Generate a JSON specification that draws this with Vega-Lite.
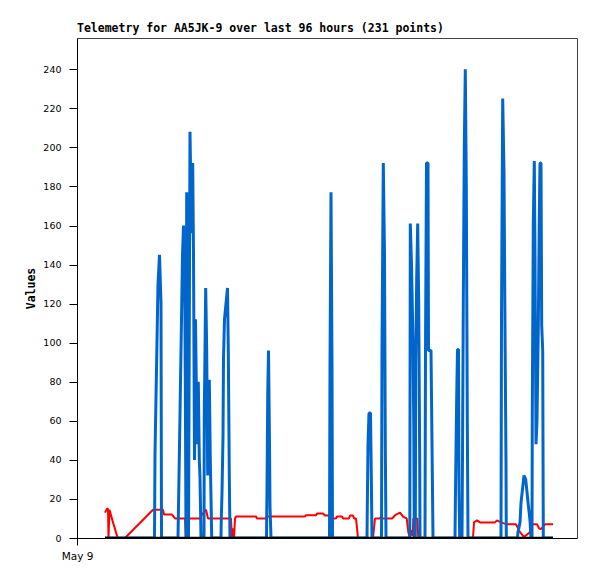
{
  "$schema": "https://vega.github.io/schema/vega-lite/v6.json",
  "width": 500,
  "height": 500,
  "autosize": {"type": "none"},
  "padding": {"left": 77, "top": 38, "right": 20, "bottom": 41},
  "background": "white",
  "title": {
    "text": "Telemetry for AA5JK-9 over last 96 hours (231 points)",
    "anchor": "start",
    "frame": "group",
    "font": "DejaVu Sans Mono",
    "fontWeight": "bold",
    "fontSize": 11.5,
    "color": "black",
    "offset": 4
  },
  "config": {
    "view": {"stroke": "#444444", "strokeWidth": 1},
    "axis": {
      "domainColor": "black",
      "tickColor": "black",
      "labelColor": "black",
      "labelFont": "DejaVu Sans",
      "labelFontSize": 9.5,
      "grid": false,
      "titleFont": "DejaVu Sans Mono",
      "titleFontWeight": "bold",
      "titleFontSize": 11.5,
      "titleColor": "black"
    }
  },
  "datasets": {
    "telemetry": [
      {"t": 5.6, "v": 0, "ch": "Ch1"},
      {"t": 15.5, "v": 0, "ch": "Ch1"},
      {"t": 15.6, "v": 43, "ch": "Ch1"},
      {"t": 15.8, "v": 72, "ch": "Ch1"},
      {"t": 16.0, "v": 101, "ch": "Ch1"},
      {"t": 16.2, "v": 130, "ch": "Ch1"},
      {"t": 16.5, "v": 145, "ch": "Ch1"},
      {"t": 16.8, "v": 120, "ch": "Ch1"},
      {"t": 16.9, "v": 0, "ch": "Ch1"},
      {"t": 20.2, "v": 0, "ch": "Ch1"},
      {"t": 20.3, "v": 16, "ch": "Ch1"},
      {"t": 20.5, "v": 47, "ch": "Ch1"},
      {"t": 20.7, "v": 80, "ch": "Ch1"},
      {"t": 20.9, "v": 112, "ch": "Ch1"},
      {"t": 21.1, "v": 145, "ch": "Ch1"},
      {"t": 21.3, "v": 160, "ch": "Ch1"},
      {"t": 21.5, "v": 147, "ch": "Ch1"},
      {"t": 21.66, "v": 81, "ch": "Ch1"},
      {"t": 21.8, "v": 0, "ch": "Ch1"},
      {"t": 21.94, "v": 177, "ch": "Ch1"},
      {"t": 22.14, "v": 87, "ch": "Ch1"},
      {"t": 22.3, "v": 0, "ch": "Ch1"},
      {"t": 22.6, "v": 208, "ch": "Ch1"},
      {"t": 22.9, "v": 156, "ch": "Ch1"},
      {"t": 23.14, "v": 192, "ch": "Ch1"},
      {"t": 23.3, "v": 145, "ch": "Ch1"},
      {"t": 23.5, "v": 40, "ch": "Ch1"},
      {"t": 23.7, "v": 112, "ch": "Ch1"},
      {"t": 24.0, "v": 48, "ch": "Ch1"},
      {"t": 24.26, "v": 80, "ch": "Ch1"},
      {"t": 24.46, "v": 40, "ch": "Ch1"},
      {"t": 24.6, "v": 31, "ch": "Ch1"},
      {"t": 24.8, "v": 0, "ch": "Ch1"},
      {"t": 25.4, "v": 0, "ch": "Ch1"},
      {"t": 25.46, "v": 64, "ch": "Ch1"},
      {"t": 25.74, "v": 128, "ch": "Ch1"},
      {"t": 25.94, "v": 96, "ch": "Ch1"},
      {"t": 26.14, "v": 32, "ch": "Ch1"},
      {"t": 26.46, "v": 81, "ch": "Ch1"},
      {"t": 26.66, "v": 40, "ch": "Ch1"},
      {"t": 26.8, "v": 21, "ch": "Ch1"},
      {"t": 26.94, "v": 0, "ch": "Ch1"},
      {"t": 28.8, "v": 0, "ch": "Ch1"},
      {"t": 28.84, "v": 8, "ch": "Ch1"},
      {"t": 29.0, "v": 23, "ch": "Ch1"},
      {"t": 29.2, "v": 52, "ch": "Ch1"},
      {"t": 29.3, "v": 92, "ch": "Ch1"},
      {"t": 29.5, "v": 112, "ch": "Ch1"},
      {"t": 29.8, "v": 120, "ch": "Ch1"},
      {"t": 30.1, "v": 128, "ch": "Ch1"},
      {"t": 30.26, "v": 96, "ch": "Ch1"},
      {"t": 30.46, "v": 32, "ch": "Ch1"},
      {"t": 30.6, "v": 0, "ch": "Ch1"},
      {"t": 37.9, "v": 0, "ch": "Ch1"},
      {"t": 38.0, "v": 24.5, "ch": "Ch1"},
      {"t": 38.14, "v": 72, "ch": "Ch1"},
      {"t": 38.3, "v": 96, "ch": "Ch1"},
      {"t": 38.5, "v": 48, "ch": "Ch1"},
      {"t": 38.6, "v": 16, "ch": "Ch1"},
      {"t": 38.8, "v": 0, "ch": "Ch1"},
      {"t": 50.5, "v": 0, "ch": "Ch1"},
      {"t": 50.6, "v": 88, "ch": "Ch1"},
      {"t": 50.8, "v": 177, "ch": "Ch1"},
      {"t": 51.0, "v": 88, "ch": "Ch1"},
      {"t": 51.1, "v": 0, "ch": "Ch1"},
      {"t": 58.0, "v": 0, "ch": "Ch1"},
      {"t": 58.06, "v": 16, "ch": "Ch1"},
      {"t": 58.2, "v": 48, "ch": "Ch1"},
      {"t": 58.4, "v": 64, "ch": "Ch1"},
      {"t": 58.7, "v": 64, "ch": "Ch1"},
      {"t": 58.86, "v": 32, "ch": "Ch1"},
      {"t": 59.0, "v": 0, "ch": "Ch1"},
      {"t": 60.9, "v": 0, "ch": "Ch1"},
      {"t": 61.0, "v": 97, "ch": "Ch1"},
      {"t": 61.26, "v": 192, "ch": "Ch1"},
      {"t": 61.5, "v": 145, "ch": "Ch1"},
      {"t": 61.66, "v": 48, "ch": "Ch1"},
      {"t": 61.8, "v": 0, "ch": "Ch1"},
      {"t": 66.56, "v": 0, "ch": "Ch1"},
      {"t": 66.66, "v": 161, "ch": "Ch1"},
      {"t": 66.9, "v": 140, "ch": "Ch1"},
      {"t": 67.2, "v": 100, "ch": "Ch1"},
      {"t": 67.36, "v": 55, "ch": "Ch1"},
      {"t": 67.46, "v": 0, "ch": "Ch1"},
      {"t": 67.66, "v": 0, "ch": "Ch1"},
      {"t": 67.74, "v": 89, "ch": "Ch1"},
      {"t": 67.94, "v": 133, "ch": "Ch1"},
      {"t": 68.14, "v": 161, "ch": "Ch1"},
      {"t": 68.34, "v": 120, "ch": "Ch1"},
      {"t": 68.54, "v": 40, "ch": "Ch1"},
      {"t": 68.6, "v": 0, "ch": "Ch1"},
      {"t": 69.6, "v": 0, "ch": "Ch1"},
      {"t": 69.7, "v": 96, "ch": "Ch1"},
      {"t": 69.9, "v": 192, "ch": "Ch1"},
      {"t": 70.2, "v": 192, "ch": "Ch1"},
      {"t": 70.3, "v": 96, "ch": "Ch1"},
      {"t": 70.8, "v": 96, "ch": "Ch1"},
      {"t": 71.0, "v": 48, "ch": "Ch1"},
      {"t": 71.2, "v": 0, "ch": "Ch1"},
      {"t": 75.6, "v": 0, "ch": "Ch1"},
      {"t": 75.7, "v": 24.5, "ch": "Ch1"},
      {"t": 75.94, "v": 72, "ch": "Ch1"},
      {"t": 76.1, "v": 96.5, "ch": "Ch1"},
      {"t": 76.3, "v": 96.5, "ch": "Ch1"},
      {"t": 76.4, "v": 24.5, "ch": "Ch1"},
      {"t": 76.54, "v": 0, "ch": "Ch1"},
      {"t": 77.0, "v": 0, "ch": "Ch1"},
      {"t": 77.1, "v": 41, "ch": "Ch1"},
      {"t": 77.26, "v": 120, "ch": "Ch1"},
      {"t": 77.46, "v": 200, "ch": "Ch1"},
      {"t": 77.66, "v": 240, "ch": "Ch1"},
      {"t": 77.86, "v": 180, "ch": "Ch1"},
      {"t": 78.06, "v": 60, "ch": "Ch1"},
      {"t": 78.2, "v": 0, "ch": "Ch1"},
      {"t": 84.8, "v": 0, "ch": "Ch1"},
      {"t": 84.9, "v": 112, "ch": "Ch1"},
      {"t": 85.14, "v": 225, "ch": "Ch1"},
      {"t": 85.4, "v": 187, "ch": "Ch1"},
      {"t": 85.6, "v": 107, "ch": "Ch1"},
      {"t": 85.8, "v": 37, "ch": "Ch1"},
      {"t": 85.86, "v": 0, "ch": "Ch1"},
      {"t": 88.1, "v": 0, "ch": "Ch1"},
      {"t": 88.2, "v": 3, "ch": "Ch1"},
      {"t": 88.6, "v": 8, "ch": "Ch1"},
      {"t": 88.8, "v": 18, "ch": "Ch1"},
      {"t": 89.06, "v": 24, "ch": "Ch1"},
      {"t": 89.4, "v": 32, "ch": "Ch1"},
      {"t": 89.74, "v": 30, "ch": "Ch1"},
      {"t": 89.94, "v": 25, "ch": "Ch1"},
      {"t": 90.26, "v": 17, "ch": "Ch1"},
      {"t": 90.6, "v": 9, "ch": "Ch1"},
      {"t": 90.8, "v": 0, "ch": "Ch1"},
      {"t": 91.0, "v": 0, "ch": "Ch1"},
      {"t": 91.06, "v": 64, "ch": "Ch1"},
      {"t": 91.26, "v": 161, "ch": "Ch1"},
      {"t": 91.46, "v": 193, "ch": "Ch1"},
      {"t": 91.6, "v": 145, "ch": "Ch1"},
      {"t": 91.8, "v": 48, "ch": "Ch1"},
      {"t": 92.0, "v": 60, "ch": "Ch1"},
      {"t": 92.26, "v": 108, "ch": "Ch1"},
      {"t": 92.46, "v": 164, "ch": "Ch1"},
      {"t": 92.6, "v": 192, "ch": "Ch1"},
      {"t": 92.8, "v": 192, "ch": "Ch1"},
      {"t": 92.94, "v": 109, "ch": "Ch1"},
      {"t": 93.14, "v": 96, "ch": "Ch1"},
      {"t": 93.26, "v": 0, "ch": "Ch1"},
      {"t": 95.2, "v": 0, "ch": "Ch1"},

      {"t": 5.6, "v": 13, "ch": "Ch2"},
      {"t": 5.8, "v": 14, "ch": "Ch2"},
      {"t": 6.0, "v": 15, "ch": "Ch2"},
      {"t": 6.2, "v": 15, "ch": "Ch2"},
      {"t": 6.3, "v": 0, "ch": "Ch2"},
      {"t": 6.5, "v": 14.5, "ch": "Ch2"},
      {"t": 7.2, "v": 8, "ch": "Ch2"},
      {"t": 8.14, "v": 0, "ch": "Ch2"},
      {"t": 9.6, "v": 0, "ch": "Ch2"},
      {"t": 15.2, "v": 14.5, "ch": "Ch2"},
      {"t": 17.2, "v": 14.5, "ch": "Ch2"},
      {"t": 17.4, "v": 12, "ch": "Ch2"},
      {"t": 19.0, "v": 12, "ch": "Ch2"},
      {"t": 19.6, "v": 10, "ch": "Ch2"},
      {"t": 21.6, "v": 10, "ch": "Ch2"},
      {"t": 21.8, "v": 0, "ch": "Ch2"},
      {"t": 22.0, "v": 10, "ch": "Ch2"},
      {"t": 24.6, "v": 10, "ch": "Ch2"},
      {"t": 25.0, "v": 12, "ch": "Ch2"},
      {"t": 25.8, "v": 14.5, "ch": "Ch2"},
      {"t": 26.2, "v": 10, "ch": "Ch2"},
      {"t": 30.8, "v": 10, "ch": "Ch2"},
      {"t": 31.0, "v": 0, "ch": "Ch2"},
      {"t": 31.2, "v": 5, "ch": "Ch2"},
      {"t": 31.4, "v": 0, "ch": "Ch2"},
      {"t": 31.6, "v": 10, "ch": "Ch2"},
      {"t": 31.8, "v": 11, "ch": "Ch2"},
      {"t": 35.8, "v": 11, "ch": "Ch2"},
      {"t": 36.0, "v": 10, "ch": "Ch2"},
      {"t": 37.8, "v": 10, "ch": "Ch2"},
      {"t": 38.0, "v": 11, "ch": "Ch2"},
      {"t": 45.6, "v": 11, "ch": "Ch2"},
      {"t": 45.8, "v": 11.7, "ch": "Ch2"},
      {"t": 47.8, "v": 11.7, "ch": "Ch2"},
      {"t": 48.0, "v": 12.5, "ch": "Ch2"},
      {"t": 49.2, "v": 12.5, "ch": "Ch2"},
      {"t": 49.6, "v": 11.5, "ch": "Ch2"},
      {"t": 51.0, "v": 11.5, "ch": "Ch2"},
      {"t": 51.2, "v": 10, "ch": "Ch2"},
      {"t": 51.8, "v": 10, "ch": "Ch2"},
      {"t": 52.0, "v": 11, "ch": "Ch2"},
      {"t": 53.0, "v": 11, "ch": "Ch2"},
      {"t": 53.2, "v": 10, "ch": "Ch2"},
      {"t": 54.4, "v": 10, "ch": "Ch2"},
      {"t": 54.6, "v": 11.5, "ch": "Ch2"},
      {"t": 55.2, "v": 11.5, "ch": "Ch2"},
      {"t": 55.4, "v": 10, "ch": "Ch2"},
      {"t": 55.8, "v": 10, "ch": "Ch2"},
      {"t": 56.2, "v": 0, "ch": "Ch2"},
      {"t": 59.2, "v": 0, "ch": "Ch2"},
      {"t": 59.6, "v": 10, "ch": "Ch2"},
      {"t": 60.6, "v": 10, "ch": "Ch2"},
      {"t": 60.8, "v": 11, "ch": "Ch2"},
      {"t": 61.0, "v": 10, "ch": "Ch2"},
      {"t": 63.0, "v": 10, "ch": "Ch2"},
      {"t": 63.8, "v": 12, "ch": "Ch2"},
      {"t": 64.6, "v": 13, "ch": "Ch2"},
      {"t": 65.2, "v": 11, "ch": "Ch2"},
      {"t": 65.94, "v": 10, "ch": "Ch2"},
      {"t": 66.26, "v": 3, "ch": "Ch2"},
      {"t": 66.6, "v": 0, "ch": "Ch2"},
      {"t": 66.8, "v": 4, "ch": "Ch2"},
      {"t": 67.14, "v": 1, "ch": "Ch2"},
      {"t": 67.26, "v": 10, "ch": "Ch2"},
      {"t": 68.06, "v": 10, "ch": "Ch2"},
      {"t": 68.26, "v": 0, "ch": "Ch2"},
      {"t": 79.2, "v": 0, "ch": "Ch2"},
      {"t": 79.4, "v": 8, "ch": "Ch2"},
      {"t": 80.0, "v": 9, "ch": "Ch2"},
      {"t": 80.6, "v": 8, "ch": "Ch2"},
      {"t": 83.6, "v": 8, "ch": "Ch2"},
      {"t": 84.0, "v": 9, "ch": "Ch2"},
      {"t": 84.8, "v": 8, "ch": "Ch2"},
      {"t": 86.0, "v": 7, "ch": "Ch2"},
      {"t": 87.8, "v": 7, "ch": "Ch2"},
      {"t": 88.6, "v": 3, "ch": "Ch2"},
      {"t": 89.4, "v": 0.5, "ch": "Ch2"},
      {"t": 90.6, "v": 3, "ch": "Ch2"},
      {"t": 90.8, "v": 7, "ch": "Ch2"},
      {"t": 92.0, "v": 7, "ch": "Ch2"},
      {"t": 92.4, "v": 5, "ch": "Ch2"},
      {"t": 92.8, "v": 4.5, "ch": "Ch2"},
      {"t": 93.6, "v": 7, "ch": "Ch2"},
      {"t": 95.2, "v": 7, "ch": "Ch2"},

      {"t": 5.6, "v": 0, "ch": "Ch3"},
      {"t": 95.2, "v": 0, "ch": "Ch3"}
    ]
  },
  "data": {"name": "telemetry"},
  "encoding": {
    "x": {
      "field": "t",
      "type": "quantitative",
      "scale": {"domain": [0, 100], "nice": false, "zero": false},
      "axis": {
        "title": null,
        "values": [0],
        "labelExpr": "'May 9'",
        "labelFontSize": 10.5,
        "tickSize": 7,
        "labelPadding": 6,
        "labelFlush": false
      }
    },
    "y": {
      "field": "v",
      "type": "quantitative",
      "scale": {"domain": [0, 256], "nice": false},
      "axis": {
        "title": "Values",
        "values": [0, 20, 40, 60, 80, 100, 120, 140, 160, 180, 200, 220, 240],
        "tickSize": 8,
        "labelPadding": 8,
        "titleX": -46,
        "titleY": 250,
        "titleAngle": -90,
        "titleAlign": "center",
        "titleBaseline": "middle"
      }
    }
  },
  "layer": [
    {
      "transform": [{"filter": "datum.ch === 'Ch2'"}],
      "mark": {"type": "line", "color": "#ff0000", "strokeWidth": 2, "strokeJoin": "bevel", "clip": true}
    },
    {
      "transform": [{"filter": "datum.ch === 'Ch1'"}],
      "mark": {"type": "line", "color": "#0066cc", "strokeWidth": 3, "strokeJoin": "bevel", "clip": true}
    },
    {
      "transform": [{"filter": "datum.ch === 'Ch3'"}],
      "mark": {"type": "line", "color": "#000000", "strokeWidth": 2.5, "clip": true}
    }
  ]
}
